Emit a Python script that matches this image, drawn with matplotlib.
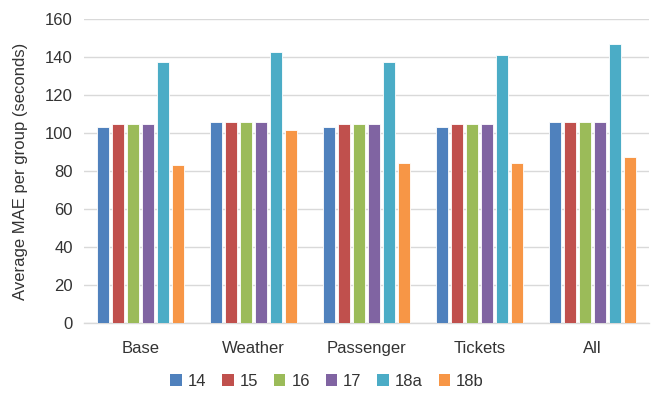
import numpy as np
import matplotlib.pyplot as plt
from matplotlib.patches import Patch

categories = ["Base", "Weather", "Passenger", "Tickets", "All"]
series_names = ["14", "15", "16", "17", "18a", "18b"]
s14 = [103.0, 105.6, 103.0, 103.0, 105.8]
s15 = [104.5, 105.6, 104.5, 104.5, 105.8]
s16 = [104.5, 105.6, 104.5, 104.5, 105.8]
s17 = [104.5, 105.6, 104.5, 104.5, 105.8]
s18a = [137.5, 142.6, 137.5, 141.0, 146.7]
s18b = [83.3, 101.4, 84.0, 84.0, 87.4]
colors = ["#4F81BD", "#C0504D", "#9BBB59", "#8064A2", "#4BACC6", "#F79646"]

plt.rcParams['font.family'] = ['Liberation Sans', 'DejaVu Sans']

fig = plt.figure(figsize=(6.54, 4.01), dpi=100)
ax = fig.add_axes([84 / 654, 1 - 323 / 401, 565 / 654, 304 / 401])

x = np.arange(len(categories))
pitch = 0.133
width = 0.112
all_series = [s14, s15, s16, s17, s18a, s18b]
for i, (vals, c) in enumerate(zip(all_series, colors)):
    offs = (i - 2.5) * pitch
    ax.bar(x + offs, vals, width=width, color=c, edgecolor="white",
           linewidth=0.6, zorder=3)

ax.set_xlim(-0.5, len(categories) - 0.5)
ax.set_ylim(0, 160)
ax.set_yticks(np.arange(0, 161, 20))
ax.set_xticks(x)
ax.set_xticklabels(categories)
ax.tick_params(axis='both', length=0, labelsize=12, colors="#333333")
ax.tick_params(axis='x', pad=13)
ax.tick_params(axis='y', pad=8)
ax.grid(axis='y', color="#D9D9D9", linewidth=1, zorder=0)
for s in ["top", "right", "left"]:
    ax.spines[s].set_visible(False)
ax.spines["bottom"].set_color("#D9D9D9")
ax.spines["bottom"].set_linewidth(1)
ax.set_ylabel("Average MAE per group (seconds)", fontsize=12, color="#333333", labelpad=12)

handles = [Patch(facecolor=c, edgecolor="none", label=n) for c, n in zip(colors, series_names)]
fig.legend(handles=handles, loc="center", bbox_to_anchor=(0.5, 1 - 381 / 401), ncol=6,
           frameon=False, fontsize=12, handlelength=0.7, handleheight=0.7,
           handletextpad=0.35, columnspacing=0.95, labelcolor="#333333")

fig.savefig("out.png", dpi=100)
